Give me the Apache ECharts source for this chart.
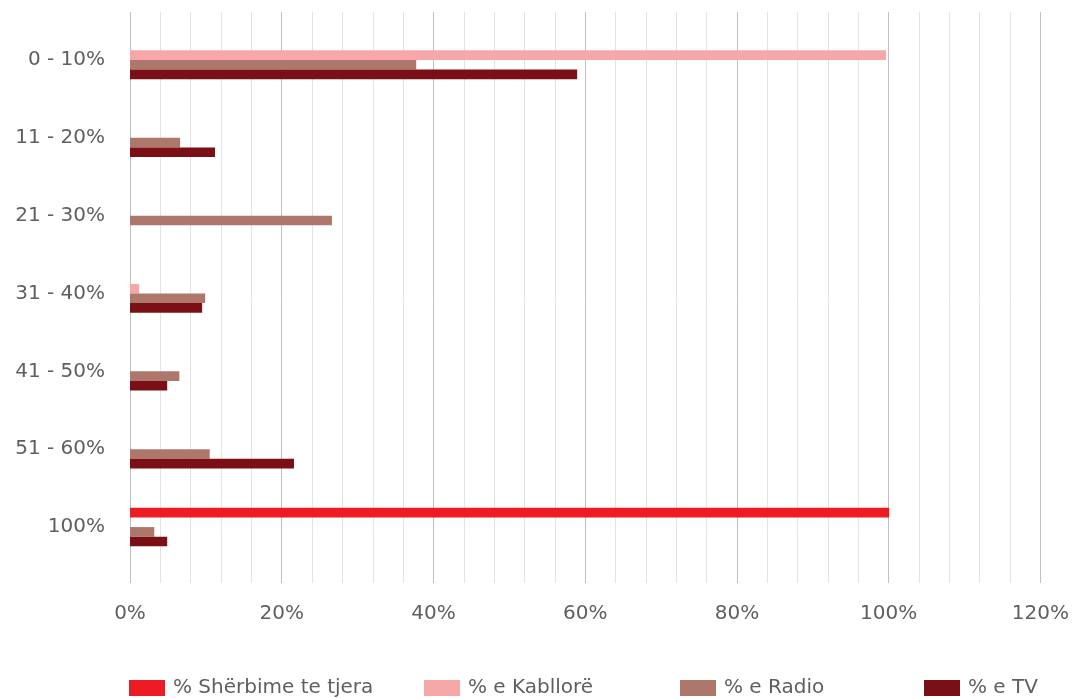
<!DOCTYPE html>
<html>
<head>
<meta charset="utf-8">
<script src="https://cdn.jsdelivr.net/npm/echarts@6/dist/echarts.min.js"></script>
<style>
html,body{margin:0;padding:0;background:#fff;}
#chart{width:1072px;height:698px;}
</style>
</head>
<body>
<div id="chart"></div>
<script>
var categories = ['0 - 10%', '11 - 20%', '21 - 30%', '31 - 40%', '41 - 50%', '51 - 60%', '100%'];
var seriesNames = ['% Shërbime te tjera', '% e Kabllorë', '% e Radio', '% e TV'];
var sherbimeValues = [0, 0, 0, 0, 0, 0, 100];
var kabloreValues = [99.6, 0, 0, 1.2, 0, 0, 0];
var radioValues = [37.7, 6.6, 26.6, 9.9, 6.5, 10.5, 3.2];
var tvValues = [58.9, 11.2, 0, 9.5, 4.9, 21.6, 4.9];
var xTickValues = [0, 20, 40, 60, 80, 100, 120];

var colors = ['#ED1C24', '#F6A8A9', '#AE776B', '#7A1015'];
var FONT = '"DejaVu Sans"';
var TXT = '#5f5f5f';

var chart = echarts.init(document.getElementById('chart'), null, {renderer: 'canvas'});
var seriesData = [sherbimeValues, kabloreValues, radioValues, tvValues];
var legendLefts = [124, 419, 675, 919];

var option = {
  animation: false,
  backgroundColor: '#ffffff',
  grid: [
    {left: 130, right: 31, top: 12, bottom: 115},
    {left: 130, right: 31, top: 21, bottom: 132}
  ],
  xAxis: [
    {
      gridIndex: 0, type: 'value', min: xTickValues[0], max: xTickValues[xTickValues.length - 1], interval: 20,
      axisLine: {show: false}, axisTick: {show: false},
      axisLabel: {formatter: '{value}%', color: TXT, fontFamily: FONT, fontSize: 20, margin: 21},
      splitLine: {show: true, lineStyle: {color: '#BFBFBF', width: 1}},
      minorTick: {show: false, splitNumber: 5},
      minorSplitLine: {show: true, lineStyle: {color: '#E3E3E3', width: 1}}
    },
    {
      gridIndex: 1, type: 'value', min: 0, max: 120, interval: 20,
      show: false
    }
  ],
  yAxis: [
    {
      gridIndex: 0, type: 'value', show: false
    },
    {
      gridIndex: 1, type: 'category', data: categories, inverse: true,
      axisLine: {show: false}, axisTick: {show: false},
      axisLabel: {color: TXT, fontFamily: FONT, fontSize: 20, margin: 25, padding: [4, 0, 0, 0]},
      splitLine: {show: false}
    }
  ],
  legend: seriesNames.map(function (n, i) {
    return {
      data: [n], left: legendLefts[i], top: 673, itemWidth: 36, itemHeight: 16,
      icon: 'rect',
      textStyle: {color: TXT, fontFamily: FONT, fontSize: 20, padding: [4, 0, 0, 3]}
    };
  }),
  series: seriesNames.map(function (n, i) {
    return {
      name: n, type: 'bar', xAxisIndex: 1, yAxisIndex: 1,
      data: seriesData[i], barWidth: 9.6, barGap: '0%',
      itemStyle: {color: colors[i]}
    };
  })
};
chart.setOption(option);
</script>
</body>
</html>
